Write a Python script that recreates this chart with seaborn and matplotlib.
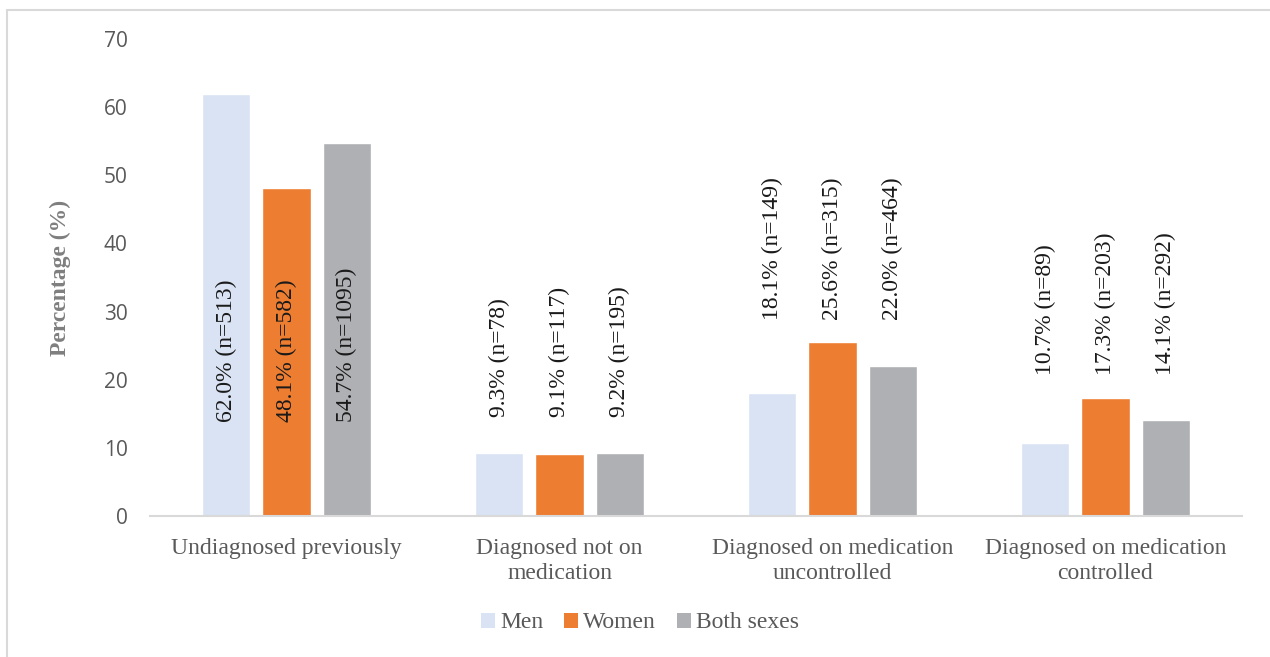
import pandas as pd
import seaborn as sns
import matplotlib.pyplot as plt
from matplotlib.patches import Rectangle, Patch

# Dados
categorias = ["Undiagnosed previously", "Diagnosed not on\nmedication",
              "Diagnosed on medication\nuncontrolled", "Diagnosed on medication\ncontrolled"]
grupos = ["Men", "Women", "Both sexes"]
men = [62.0, 9.3, 18.1, 10.7]
women = [48.1, 9.1, 25.6, 17.3]
both = [54.7, 9.2, 22.0, 14.1]
n_men = [513, 78, 149, 89]
n_women = [582, 117, 315, 203]
n_both = [1095, 195, 464, 292]
cores = ["#DAE3F3", "#ED7D31", "#AFB0B3"]

linhas = []
for g, vals, ns in zip(grupos, [men, women, both], [n_men, n_women, n_both]):
    for c, v, n in zip(categorias, vals, ns):
        linhas.append({"Categoria": c, "Grupo": g, "Valor": v, "n": n})
df = pd.DataFrame(linhas)

sns.set_style("white")
fig = plt.figure(figsize=(12.7, 6.57), dpi=100)
ax = fig.add_axes([150 / 1270, 141 / 657, 1092 / 1270, 477 / 657])

sns.barplot(data=df, x="Categoria", y="Valor", hue="Grupo", order=categorias,
            hue_order=grupos, palette=cores, width=0.66, gap=0.2,
            saturation=1, ax=ax, legend=False)

# Rótulos verticais (posição da base do texto, ajustada à mão como no original)
base_rotulo = [13.8, 14.5, 28.8, 20.7]
for cont, g in zip(ax.containers, grupos):
    sub = df[df["Grupo"] == g].set_index("Categoria").loc[categorias]
    for i, (bar, v, n) in enumerate(zip(cont, sub["Valor"], sub["n"])):
        ax.text(bar.get_x() + bar.get_width() / 2, base_rotulo[i], f"{v:.1f}% (n={n})",
                rotation=90, ha="center", va="bottom", fontsize=17,
                family="Liberation Serif", color="#1a1a1a")

ax.set_ylim(0, 70)
ax.set_xlim(-0.5, 3.5)
ax.set_yticks(range(0, 71, 10))
ax.tick_params(axis="y", labelsize=15, labelcolor="#595959", length=0, pad=16)
ax.tick_params(axis="x", length=0, pad=16)
for lab in ax.get_yticklabels():
    lab.set_family("Open Sans")
for lab in ax.get_xticklabels():
    lab.set_family("Liberation Serif")
    lab.set_fontsize(17)
    lab.set_color("#595959")
    lab.set_linespacing(1.25)
ax.set_xlabel("")
ax.set_ylabel("Percentage (%)", fontsize=17, fontweight="bold", color="#7f7f7f",
              family="Liberation Serif", labelpad=24)
for s in ["top", "right", "left"]:
    ax.spines[s].set_visible(False)
ax.spines["bottom"].set_color("#D9D9D9")
ax.spines["bottom"].set_linewidth(1.5)

handles = [Patch(facecolor=c, edgecolor="none") for c in cores]
fig.legend(handles, grupos, loc="center", bbox_to_anchor=(0.504, 0.052), ncol=3,
           frameon=False, handlelength=0.6, handleheight=0.6, handletextpad=0.2,
           columnspacing=0.9, prop={"family": "Liberation Serif", "size": 17},
           labelcolor="#595959")

fig.patches.append(Rectangle((7 / 1270, -0.05), 1.1, (647 / 657) + 0.05,
                             transform=fig.transFigure, fill=False,
                             edgecolor="#D9D9D9", linewidth=1.5))

fig.savefig("out.png", dpi=100)
